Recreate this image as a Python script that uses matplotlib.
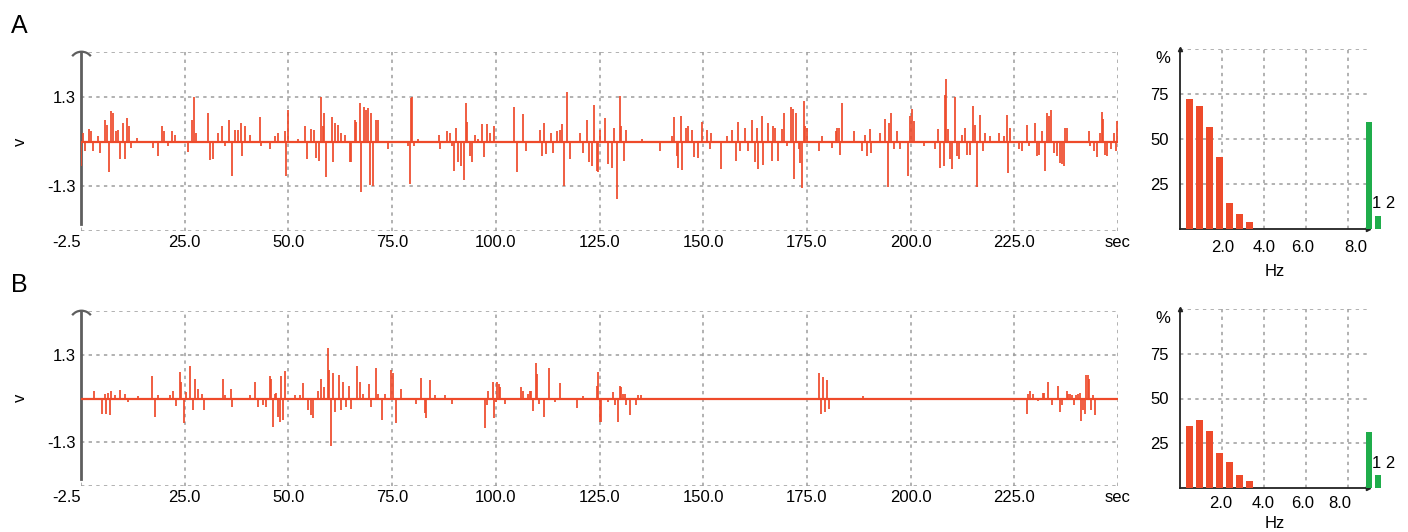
import numpy as np
import matplotlib
matplotlib.use('Agg')
import matplotlib.pyplot as plt
from matplotlib.path import Path
from matplotlib.transforms import ScaledTranslation, blended_transform_factory

plt.rcParams['font.family'] = ['Liberation Sans', 'DejaVu Sans']
plt.rcParams['font.size'] = 12

# (time s, peak v) of each deflection in the two recordings
spikes_a = [
    (0.1, -0.71), (0.5, 0.25), (0.9, -0.28), (1.85, 0.36), (2.5, 0.30), (2.9, -0.28), (4.1, 0.15), (4.7, -0.33),
    (5.9, 0.63), (6.35, 0.49), (6.75, -0.88), (7.3, 0.90), (7.7, 0.82), (8.5, 0.30), (8.9, 0.33), (9.3, -0.50),
    (10.1, 0.54), (10.5, -0.52), (11.2, 0.68), (11.5, 0.44), (12.1, -0.18), (13.6, 0.11), (17.4, -0.18),
    (18.6, -0.42), (19.5, 0.44), (20.0, 0.30), (21.0, -0.13), (22.0, 0.30), (22.6, 0.20), (25.8, -0.31),
    (26.8, 0.63), (27.3, 1.30), (27.8, 0.25), (30.6, 0.84), (31.2, -0.54), (31.8, -0.52), (33.0, 0.25),
    (34.0, 0.44), (34.6, -0.13), (35.8, 0.63), (36.4, -1.01), (37.05, 0.34), (37.85, 0.34), (38.5, 0.54),
    (38.9, -0.42), (39.5, 0.44), (40.7, 0.20), (43.1, 0.71), (43.5, -0.13), (45.5, -0.23), (46.7, 0.15),
    (47.5, 0.25), (49.1, 0.30), (49.5, -0.99), (49.9, 0.92), (52.3, 0.08), (53.9, 0.44), (54.6, -0.52),
    (55.5, 0.36), (56.2, 0.34), (56.7, -0.47), (57.3, -0.56), (57.8, 1.30), (58.3, 0.44), (58.7, 0.82),
    (59.1, -1.04), (60.4, 0.71), (60.8, -0.61), (61.2, 0.54), (62.0, 0.49), (62.8, 0.25), (63.6, 0.20),
    (64.8, -0.61), (65.2, -0.61), (66.0, 0.63), (66.4, 0.58), (67.2, 1.11), (67.6, -1.47), (68.2, 1.01),
    (68.8, 0.92), (69.2, 0.97), (69.6, -1.26), (70.0, 0.82), (70.4, -1.30), (71.0, 0.63), (71.6, 0.63),
    (74.0, -0.21), (78.8, -0.13), (79.2, -1.23), (79.5, 1.25), (79.9, 1.30), (80.4, -0.13), (81.2, 0.08),
    (86.2, 0.20), (86.5, -0.23), (88.2, 0.30), (89.0, 0.25), (89.4, -0.13), (90.0, -0.85), (90.3, 0.39),
    (91.0, -0.61), (91.6, -0.71), (92.3, -1.11), (92.7, 1.11), (93.1, 0.58), (93.8, -0.42), (94.3, -0.61),
    (95.0, 0.20), (95.8, 0.06), (96.6, 0.52), (97.2, -0.44), (97.8, 0.52), (98.6, 0.25), (99.6, 0.44),
    (104.4, 0.99), (105.0, -0.90), (106.5, 0.80), (107.4, -0.28), (110.7, 0.34), (111.2, -0.42), (111.7, 0.54),
    (112.0, -0.37), (113.3, 0.25), (113.9, -0.33), (114.7, 0.30), (115.5, 0.34), (116.0, 0.52), (116.5, -1.30),
    (117.2, 1.44), (117.9, -0.52), (120.3, 0.25), (121.1, -0.33), (121.9, 0.63), (122.5, -0.61), (123.1, -0.71),
    (123.7, 1.06), (124.3, -0.85), (124.7, -0.90), (125.1, 0.34), (126.3, 0.68), (127.0, -0.66), (127.9, -0.76),
    (128.6, 0.39), (129.3, -1.66), (129.9, 1.32), (130.3, 0.44), (131.0, -0.56), (131.5, 0.34), (135.2, 0.08),
    (139.6, -0.28), (142.4, 0.15), (143.0, 0.71), (143.6, -0.42), (144.0, -0.78), (144.6, 0.75), (145.0, -0.82),
    (145.8, 0.39), (146.4, 0.44), (147.2, 0.34), (147.9, -0.44), (148.8, -0.47), (149.6, 0.58), (150.8, 0.34),
    (151.6, -0.23), (152.0, 0.25), (154.3, -0.80), (155.7, 0.15), (156.9, 0.34), (157.8, -0.56), (158.5, 0.58),
    (158.9, -0.28), (160.1, 0.39), (160.9, -0.28), (161.7, 0.63), (162.5, -0.61), (162.9, 0.39), (163.3, -0.80),
    (164.1, 0.73), (164.5, -0.69), (165.7, 0.54), (166.5, -0.56),
    (166.8, 0.44), (167.4, 0.39), (168.0, -0.57), (169.0, 0.35), (169.4, 0.83), (170.2, -0.13), (171.2, 1.00),
    (171.6, 0.94), (171.9, -1.10), (172.4, 0.83), (173.0, -0.23), (173.4, -0.62), (173.8, -1.34), (174.2, 1.18),
    (174.6, 0.44), (175.0, 0.39), (177.8, -0.28), (178.6, 0.15), (181.1, -0.18), (181.9, 0.30), (182.3, 0.39),
    (182.7, 0.39), (183.1, -0.38), (183.5, 1.12), (186.3, 0.30), (188.3, -0.28), (189.1, 0.20), (189.5, -0.42),
    (190.1, 0.35), (190.5, -0.33), (192.7, 0.25), (193.9, 0.64), (194.5, -1.31), (194.7, 0.54), (195.3, 0.83),
    (195.9, -0.23), (196.7, 0.30), (197.4, -0.23), (199.4, -1.00), (199.9, 0.73), (200.3, 0.94), (200.7, 0.59),
    (203.2, -0.13), (206.0, -0.23), (206.5, 0.35), (207.2, -0.76), (208.0, -0.71), (208.2, 1.36), (208.5, 1.81),
    (209.0, 0.35), (209.6, -0.52), (210.1, -0.81), (210.6, 1.29), (211.2, -0.42), (211.6, -0.52), (212.4, 0.20),
    (213.0, 0.39), (213.6, -0.38), (214.4, -0.38), (215.0, 1.02), (215.6, 0.49), (216.0, -1.31), (216.8, 0.78),
    (217.4, -0.28), (218.0, 0.25), (219.2, 0.15), (221.2, 0.25), (222.4, 0.15), (223.2, 0.78), (223.6, -0.91),
    (224.0, 0.39), (226.1, -0.23), (226.9, -0.28), (228.1, 0.49), (228.6, -0.13), (230.1, 0.54), (230.5, -0.42),
    (230.9, -0.38), (231.7, 0.30), (232.3, -0.86), (232.9, 0.83), (233.3, 0.73), (233.9, 0.92), (234.5, -0.33),
    (235.3, -0.42), (235.9, -0.62), (236.5, -0.66), (236.9, -0.71), (237.3, 0.39), (237.7, 0.39), (242.9, 0.30),
    (243.3, -0.13), (244.1, -0.28), (244.9, -0.44), (245.7, 0.25), (246.1, 0.85), (246.5, 0.64), (246.9, -0.38),
    (247.4, -0.42), (248.2, -0.23), (249.0, 0.25), (249.4, -0.28), (249.8, 0.59),
]

spikes_b = [
    (3.1, 0.23), (5.1, -0.45), (5.7, 0.14), (6.1, -0.45), (6.5, 0.16), (6.9, -0.49), (7.3, 0.23), (8.3, 0.09),
    (9.3, 0.26), (10.5, 0.14), (11.3, -0.11), (13.7, 0.06), (17.1, 0.67), (17.8, -0.54), (18.6, 0.11),
    (21.4, 0.11), (22.2, 0.23), (23.0, -0.22), (23.8, 0.79), (24.2, 0.48), (24.8, -0.74), (25.4, 0.18),
    (26.3, 0.98), (27.0, -0.35), (27.6, 0.57), (28.2, 0.28), (29.2, 0.14), (29.7, -0.35), (34.2, 0.59),
    (34.6, 0.09), (36.1, 0.28), (36.4, -0.25), (40.7, 0.09), (41.9, 0.49), (42.7, -0.25), (43.9, -0.20),
    (44.7, -0.25), (45.5, 0.67), (45.9, 0.57), (46.3, -0.86), (46.7, 0.14), (47.1, 0.16), (47.5, -0.54),
    (47.9, -0.69), (48.3, 0.67), (48.7, -0.64), (49.3, 0.81), (51.5, 0.09), (52.7, 0.09), (53.5, 0.46),
    (54.7, -0.35), (55.5, -0.49), (55.9, -0.59), (57.1, 0.23), (57.8, 0.57), (58.7, 0.33), (59.5, 1.49),
    (59.9, 0.86), (60.3, -1.42), (60.8, 0.77), (61.2, -0.40), (62.1, 0.69), (62.8, -0.35), (63.2, 0.48),
    (64.0, -0.25), (64.5, 0.38), (65.2, -0.30), (66.5, 0.98), (67.2, 0.48), (68.0, 0.14), (69.4, 0.43),
    (70.0, -0.25), (71.2, 0.91), (71.6, 0.14), (72.6, -0.64), (73.2, 0.14), (74.8, 0.86), (75.2, 0.77),
    (76.0, -0.74), (77.2, 0.28), (80.8, -0.16), (81.9, 0.62), (82.9, -0.42),
    (83.1, -0.59), (84.1, 0.55), (85.3, 0.09), (87.7, 0.09), (89.4, -0.16), (97.4, -0.88), (97.8, -0.20),
    (98.2, 0.23), (99.4, 0.48), (99.6, -0.59), (100.0, -0.11), (100.4, 0.48), (100.8, 0.43), (101.0, 0.33),
    (102.1, -0.16), (106.1, 0.33), (106.6, 0.23), (107.7, 0.14), (108.2, 0.23), (108.6, 0.23), (109.0, -0.38),
    (109.7, 1.06), (110.0, 0.72), (110.4, -0.16), (111.5, -0.54), (112.8, 0.91), (114.3, -0.11), (115.5, 0.46),
    (119.5, -0.28), (121.0, 0.07), (124.3, 0.38), (124.6, 0.79), (125.0, -0.69), (125.4, -0.71), (127.0, -0.11),
    (128.3, 0.20), (128.7, -0.20), (129.4, -0.71), (129.9, 0.38), (130.3, 0.33), (130.7, 0.14), (131.1, 0.14),
    (131.5, -0.20), (132.3, -0.48), (133.7, -0.20), (134.4, 0.09), (135.0, 0.09),
    (177.8, 0.75), (178.3, -0.45), (178.9, 0.65), (179.4, -0.40), (179.9, 0.55), (180.4, -0.30), (188.5, 0.08),
    (228.0, -0.45), (228.4, 0.14), (228.9, 0.23), (229.6, 0.14), (230.6, -0.06), (231.8, 0.16), (232.2, 0.16),
    (233.2, 0.48), (234.0, -0.20), (235.6, 0.36), (235.9, -0.40), (236.4, -0.20), (237.6, 0.23), (238.0, 0.14),
    (238.4, 0.14), (238.8, 0.09), (239.4, -0.20), (239.9, 0.11), (240.4, 0.14), (240.8, 0.16), (241.2, -0.67),
    (241.6, -0.35), (242.0, -0.45), (242.4, 0.69), (242.8, 0.69), (243.1, 0.57), (243.4, -0.35), (243.9, 0.09),
    (244.5, -0.48),
]

time_ticks = [0, 25, 50, 75, 100, 125, 150, 175, 200, 225, 250]
time_labels = ['-2.5', '25.0', '50.0', '75.0', '100.0', '125.0', '150.0', '175.0', '200.0', '225.0', 'sec']
volt_ticks = [-2.6, -1.3, 0, 1.3, 2.6]
volt_labels = ['', '-1.3', '', '1.3', '']

# frequency distribution (%) - red bins, green classes 1 and 2
freq_a = [72.0, 68.5, 56.5, 40.0, 14.5, 8.3, 4.0]
class_a = [59.5, 7.5]
freq_b = [34.5, 38.0, 32.0, 19.5, 14.3, 7.0, 3.7]
class_b = [31.3, 7.5]
hz_ticks = [2, 4, 6, 8]
hz_labels = ['2.0', '4.0', '6.0', '8.0']
pct_ticks = [25, 50, 75, 100]

RED = '#ee4a2a'
GREEN = '#1fad4b'
GRID = '#9c9c9c'
W, H = 1408, 532


def px(x0, y0, x1, y1):
    return [x0 / W, 1 - y1 / H, (x1 - x0) / W, (y1 - y0) / H]


def trace(ax, spikes):
    t = [s[0] for s in spikes]
    v = [s[1] for s in spikes]
    ax.set_xlim(0, 250)
    ax.set_ylim(-2.6, 2.6)
    ax.set_xticks(time_ticks)
    ax.set_xticklabels(time_labels)
    ax.get_xticklabels()[0].set_horizontalalignment('right')
    ax.set_yticks(volt_ticks)
    ax.set_yticklabels(volt_labels)
    ax.tick_params(length=0, pad=4, labelsize=12)
    ax.tick_params(axis='x', pad=3)
    ax.grid(True, color=GRID, lw=1.1, ls=(0, (2.2, 2.8)))
    for s in ['top', 'right', 'bottom']:
        ax.spines[s].set_visible(False)
    ax.spines['left'].set_color('#5e5e5e')
    ax.spines['left'].set_linewidth(2)
    ax.spines['left'].set_bounds(-2.4, 2.6)
    ax.axhline(0, color=RED, lw=1.6, zorder=3)
    ax.vlines(t, 0, v, color=RED, lw=1.25, zorder=3)
    # cap on top of the value axis
    off = ax.transData + ScaledTranslation(0, -8.0 / 72, ax.figure.dpi_scale_trans)
    ax.plot([0], [2.6], marker=Path.arc(38, 142), ms=17, mfc='none', mec='#5e5e5e',
            mew=1.6, transform=off, clip_on=False, zorder=5)


def histogram(ax, freq, cls, label_x, label_dy, hz_dy, cls_dy):
    ax.set_xlim(0, 8.95)
    ax.set_ylim(0, 100)
    ax.set_yticks(pct_ticks)
    ax.set_yticklabels(['25', '50', '75', ''])
    ax.set_xticks(hz_ticks)
    ax.set_xticklabels([])
    ax.tick_params(length=0, pad=8, labelsize=12)
    ax.grid(True, color=GRID, lw=1.1, ls=(0, (2.2, 2.8)))
    for s in ['top', 'right']:
        ax.spines[s].set_visible(False)
    for s in ['left', 'bottom']:
        ax.spines[s].set_color('#222222')
        ax.spines[s].set_linewidth(1.3)
    ax.plot([0], [100], marker='^', ms=3, color='#222222', clip_on=False)
    ax.plot([8.95], [0], marker='>', ms=3, color='#222222', clip_on=False)
    xs = 0.45 + 0.475 * np.arange(len(freq))
    ax.bar(xs, freq, width=0.33, color=RED, zorder=3)
    gx = 9.0 + 0.43 * np.arange(len(cls))
    ax.bar(gx, cls, width=0.29, color=GREEN, zorder=3, clip_on=False)
    tr = blended_transform_factory(ax.transData, ax.transAxes)
    for x, lab in zip(label_x, hz_labels):
        ax.text(x, 0, lab, transform=tr + ScaledTranslation(0, -label_dy / 100, ax.figure.dpi_scale_trans),
                ha='center', va='center', fontsize=12)
    ax.text(4.5, 0, 'Hz', transform=tr + ScaledTranslation(0, -hz_dy / 100, ax.figure.dpi_scale_trans),
            ha='center', va='center', fontsize=12)
    ax.text(-0.8, 94.5, '%', ha='center', va='center', fontsize=12)
    ax.text(9.7, cls[1], '1 2', ha='center', va='bottom', fontsize=12, clip_on=False,
            transform=ax.transData + ScaledTranslation(0, cls_dy / 100, ax.figure.dpi_scale_trans))


fig = plt.figure(figsize=(W / 100, H / 100), dpi=100)

ax_a = fig.add_axes(px(81, 52, 1118, 231))
trace(ax_a, spikes_a)
ax_b = fig.add_axes(px(81, 311, 1118, 486))
trace(ax_b, spikes_b)

hist_a = fig.add_axes(px(1180, 49, 1368, 229))
histogram(hist_a, freq_a, class_a, [2.05, 4.0, 5.86, 8.38], 19, 43, 4)
hist_b = fig.add_axes(px(1180, 309, 1368, 488))
histogram(hist_b, freq_b, class_b, [1.95, 3.95, 5.86, 7.62], 15, 35, 4)

fig.text(20 / W, 1 - 142 / H, 'v', rotation=90, ha='center', va='center', fontsize=12)
fig.text(20 / W, 1 - 398 / H, 'v', rotation=90, ha='center', va='center', fontsize=12)
fig.text(11 / W, 1 - 33 / H, 'A', fontsize=18, va='baseline')
fig.text(11 / W, 1 - 292 / H, 'B', fontsize=18, va='baseline')

fig.savefig('out.png', dpi=100)
